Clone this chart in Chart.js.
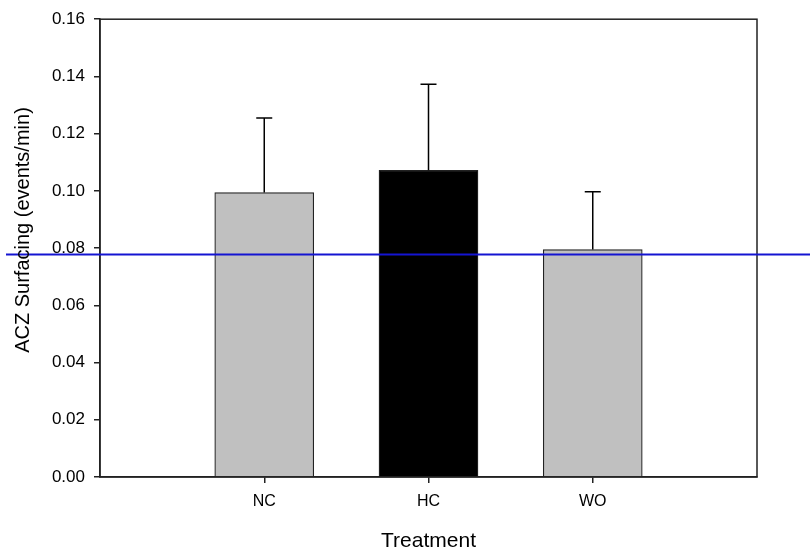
<!DOCTYPE html>
<html>
<head>
<meta charset="utf-8">
<title>ACZ Surfacing</title>
<script src="https://cdn.jsdelivr.net/npm/chart.js@4/dist/chart.umd.min.js"></script>
<style>
  html, body { margin: 0; padding: 0; background: #fff; }
  #chart { display: block; }
</style>
</head>
<body>
<canvas id="chart" width="810" height="555"></canvas>
<script>
// data
const categories = ['NC', 'HC', 'WO'];
const means = [0.0994, 0.1072, 0.0795];
const errors = [0.0261, 0.0301, 0.0202];   // upper error (SE)
const barColors = ['#c0c0c0', '#000000', '#c0c0c0'];
const baseline = 0.078;                     // horizontal reference line
const yTicks = [0, 0.02, 0.04, 0.06, 0.08, 0.10, 0.12, 0.14, 0.16];

const FONT = '"Liberation Sans", Arial, Helvetica, sans-serif';
const AXIS = '#222';

// pad with empty slots so bars sit at 1/4, 2/4, 3/4 of the plot width
const labels = ['', ...categories, ''];
const padded = arr => [null, ...arr, null];

const frame = {
  id: 'frame',
  afterDatasetsDraw(chart) {
    const { ctx, chartArea: a, scales: { y } } = chart;
    ctx.save();
    // box around the plot
    ctx.strokeStyle = AXIS;
    ctx.lineWidth = 1.5;
    ctx.strokeRect(a.left, a.top, a.right - a.left, a.bottom - a.top);

    // error bars (upper only)
    const meta = chart.getDatasetMeta(0);
    ctx.strokeStyle = '#000';
    ctx.lineWidth = 1.5;
    categories.forEach((c, i) => {
      const bar = meta.data[i + 1];
      const x = bar.x;
      const y0 = y.getPixelForValue(means[i]);
      const y1 = y.getPixelForValue(means[i] + errors[i]);
      ctx.beginPath();
      ctx.moveTo(x, y0);
      ctx.lineTo(x, y1);
      ctx.moveTo(x - 8, y1);
      ctx.lineTo(x + 8, y1);
      ctx.stroke();
    });

    // blue reference line across the whole figure
    const yb = Math.round(y.getPixelForValue(baseline)) + 0.5;
    ctx.strokeStyle = '#1414d2';
    ctx.lineWidth = 2;
    ctx.beginPath();
    ctx.moveTo(6, yb);
    ctx.lineTo(chart.width, yb);
    ctx.stroke();

    // axis titles
    ctx.fillStyle = '#000';
    ctx.textAlign = 'center';
    ctx.textBaseline = 'middle';
    ctx.font = '21px ' + FONT;
    ctx.fillText('Treatment', (a.left + a.right) / 2, 541);
    ctx.translate(23, 230);
    ctx.rotate(-Math.PI / 2);
    ctx.font = '20px ' + FONT;
    ctx.fillText('ACZ Surfacing (events/min)', 0, 0);
    ctx.restore();
  }
};

new Chart(document.getElementById('chart'), {
  type: 'bar',
  data: {
    labels,
    datasets: [{
      data: padded(means),
      backgroundColor: padded(barColors),
      borderColor: '#222',
      borderWidth: 1.2,
      borderSkipped: 'bottom',
      barThickness: 99
    }]
  },
  options: {
    responsive: false,
    animation: false,
    layout: { padding: { top: 18, right: 53, left: 0, bottom: 0 } },
    plugins: {
      legend: { display: false },
      tooltip: { enabled: false }
    },
    scales: {
      x: {
        type: 'category',
        offset: false,
        afterFit: s => { s.height = 78; },
        grid: {
          offset: false,
          drawOnChartArea: false,
          tickLength: 6,
          color: ctx => (ctx.tick && ctx.tick.label ? AXIS : 'rgba(0,0,0,0)'),
          lineWidth: 1.5
        },
        border: { display: true, color: AXIS, width: 1.5 },
        ticks: {
          color: '#000',
          padding: 9,
          autoSkip: false,
          maxRotation: 0,
          font: { family: FONT, size: 16 }
        }
      },
      y: {
        min: 0,
        max: 0.16,
        afterFit: s => { s.width = 100; },
        afterBuildTicks: s => { s.ticks = yTicks.map(v => ({ value: v })); },
        grid: {
          drawOnChartArea: false,
          tickLength: 6,
          color: AXIS,
          lineWidth: 1.5
        },
        border: { display: true, color: AXIS, width: 1.5 },
        ticks: {
          color: '#000',
          padding: 9,
          font: { family: FONT, size: 17 },
          callback: v => v.toFixed(2)
        }
      }
    }
  },
  plugins: [frame]
});
</script>
</body>
</html>
